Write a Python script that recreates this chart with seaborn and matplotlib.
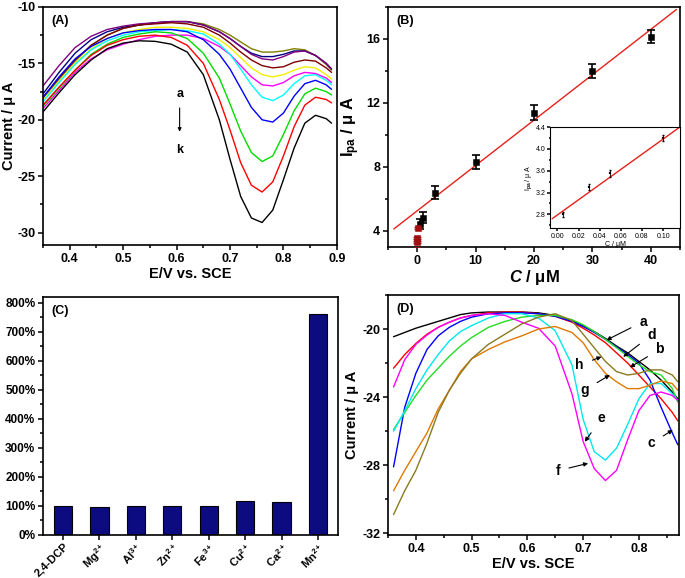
import numpy as np
import pandas as pd
import seaborn as sns
import matplotlib.pyplot as plt
from matplotlib.ticker import MultipleLocator, PercentFormatter

# ---------------- panel A: curves a..k (E / V vs SCE -> current / uA)
potential_A = [0.35, 0.38, 0.41, 0.44, 0.47, 0.50, 0.53, 0.56, 0.59, 0.62, 0.65, 0.68,
               0.70, 0.72, 0.74, 0.76, 0.78, 0.80, 0.82, 0.84, 0.86, 0.88, 0.89]
curve_A_a = [-18.1, -16.4, -14.8, -13.4, -12.5, -11.9, -11.6, -11.4, -11.3, -11.3, -11.5, -12.0,
             -12.5, -13.1, -13.7, -14.0, -14.0, -13.9, -13.7, -13.8, -14.3, -15.1, -15.6]
curve_A_b = [-17.7, -15.8, -14.1, -12.9, -12.2, -11.8, -11.6, -11.4, -11.3, -11.3, -11.6, -12.2,
             -12.8, -13.5, -14.1, -14.4, -14.4, -14.2, -13.9, -13.9, -14.3, -15.0, -15.5]
curve_A_c = [-17.0, -15.2, -13.6, -12.6, -12.0, -11.7, -11.5, -11.4, -11.3, -11.3, -11.6, -12.2,
             -12.8, -13.5, -14.2, -14.6, -14.7, -14.4, -14.0, -13.9, -14.3, -15.0, -15.5]
curve_A_d = [-18.0, -16.3, -14.7, -13.4, -12.5, -11.9, -11.6, -11.5, -11.4, -11.5, -11.8, -12.5,
             -13.2, -14.0, -14.7, -15.2, -15.4, -15.3, -14.9, -14.7, -14.8, -15.4, -15.8]
curve_A_e = [-18.3, -16.6, -15.0, -13.7, -12.8, -12.3, -12.0, -11.8, -11.8, -11.9, -12.2, -12.9,
             -13.6, -14.5, -15.4, -16.0, -16.2, -16.0, -15.6, -15.3, -15.4, -16.0, -16.4]
curve_A_f = [-19.0, -17.4, -15.8, -14.6, -13.8, -13.3, -12.9, -12.6, -12.5, -12.5, -12.8, -13.5,
             -14.2, -15.2, -16.2, -16.9, -17.0, -16.7, -16.1, -15.8, -15.9, -16.3, -16.7]
curve_A_g = [-18.4, -16.7, -15.1, -13.8, -13.0, -12.5, -12.2, -12.1, -12.0, -12.1, -12.4, -13.3,
             -14.2, -15.5, -16.9, -18.0, -18.3, -17.8, -16.8, -16.1, -16.0, -16.5, -16.9]
curve_A_h = [-18.0, -16.2, -14.6, -13.5, -12.8, -12.3, -12.1, -12.0, -12.0, -12.2, -12.9, -14.2,
             -15.5, -17.2, -18.9, -20.0, -20.2, -19.4, -17.9, -16.8, -16.5, -16.9, -17.3]
curve_A_i = [-18.8, -17.2, -15.6, -14.2, -13.3, -12.7, -12.4, -12.2, -12.3, -12.8, -14.1, -16.3,
             -18.6, -21.0, -22.9, -23.7, -23.2, -21.3, -19.2, -17.7, -17.2, -17.5, -17.8]
curve_A_j = [-18.7, -17.1, -15.6, -14.3, -13.4, -12.9, -12.6, -12.5, -12.7, -13.4, -15.0, -18.2,
             -20.9, -23.8, -25.8, -26.4, -25.5, -23.2, -20.6, -18.7, -18.0, -18.2, -18.5]
curve_A_k = [-19.3, -17.6, -16.0, -14.7, -13.7, -13.2, -13.0, -13.05, -13.3, -14.0, -16.0, -20.0,
             -23.5, -26.8, -28.7, -29.1, -28.0, -25.3, -22.5, -20.3, -19.6, -19.9, -20.3]
labels_A = list("abcdefghijk")
colors_A = ["#808000", "#000080", "#800080", "#800000", "#f0f000", "#ff00ff",
            "#00ffff", "#0000ff", "#00dd00", "#ff0000", "#000000"]

# ---------------- panel B: calibration
conc_B = [0.5, 1, 3, 10, 20, 30, 40]
ipa_B = [4.42, 4.83, 6.4, 8.3, 11.4, 14.0, 16.15]
err_B = [0.3, 0.35, 0.4, 0.45, 0.45, 0.45, 0.4]
fit_slope_B = 0.2835
fit_intercept_B = 5.26
fit_range_B = [-4.0, 44.4]

conc_inset = [0.005, 0.03, 0.05, 0.10]
ipa_inset = [2.80, 3.30, 3.55, 4.20]
err_inset = [0.05, 0.05, 0.06, 0.05]
fit_slope_inset = 13.9
fit_intercept_inset = 2.79
fit_range_inset = [-0.005, 0.116]

# ---------------- panel C: interference
ions_C = ["2,4-DCP", "Mg$^{2+}$", "Al$^{3+}$", "Zn$^{2+}$", "Fe$^{3+}$",
          "Cu$^{2+}$", "Ca$^{2+}$", "Mn$^{2+}$"]
response_C = [100, 97, 99, 99, 100, 118, 115, 760]

# ---------------- panel D: curves a..h
potential_D = [0.36, 0.38, 0.40, 0.42, 0.44, 0.46, 0.48, 0.50, 0.53, 0.56, 0.59, 0.62,
               0.65, 0.68, 0.70, 0.72, 0.74, 0.76, 0.78, 0.80, 0.82, 0.84, 0.86, 0.87]
curve_D_a = [-20.45, -20.2, -19.95, -19.75, -19.55, -19.35, -19.15, -19.05, -19.0, -19.0, -19.0, -19.05,
             -19.2, -19.5, -19.8, -20.15, -20.55, -21.0, -21.4, -21.9, -22.4, -23.0, -23.7, -24.1]
curve_D_b = [-22.3, -21.5, -20.85, -20.3, -19.9, -19.6, -19.35, -19.2, -19.05, -19.0, -19.0, -19.1,
             -19.25, -19.6, -19.95, -20.35, -20.8, -21.4, -22.0, -22.7, -23.4, -24.1, -24.9, -25.4]
curve_D_c = [-28.1, -24.6, -22.6, -21.2, -20.4, -19.9, -19.55, -19.3, -19.1, -19.05, -19.05, -19.1,
             -19.25, -19.55, -19.85, -20.2, -20.6, -21.05, -21.5, -22.0, -23.0, -24.6, -26.1, -26.8]
curve_D_d = [-25.9, -24.9, -23.9, -23.0, -22.3, -21.6, -21.0, -20.5, -19.9, -19.55, -19.3, -19.2,
             -19.2, -19.45, -19.75, -20.15, -20.6, -21.1, -21.6, -22.1, -22.5, -22.7, -23.5, -24.3]
curve_D_e = [-26.0, -24.8, -23.5, -22.4, -21.5, -20.7, -20.15, -19.8, -19.35, -19.1, -19.1, -19.35,
             -20.1, -22.1, -25.3, -27.2, -27.7, -27.0, -25.6, -24.1, -23.2, -23.2, -23.8, -24.2]
curve_D_f = [-23.4, -21.8, -20.9, -20.35, -19.9, -19.6, -19.35, -19.2, -19.1, -19.2, -19.6, -19.95,
             -21.0, -23.8, -26.6, -28.2, -28.9, -28.3, -26.5, -24.8, -23.9, -23.7, -23.9, -24.2]
curve_D_g = [-29.5, -28.3, -27.2, -26.1, -24.7, -23.6, -22.5, -21.75, -21.2, -20.75, -20.4, -20.0,
             -19.85, -20.2, -20.8, -21.8, -22.6, -23.1, -23.5, -23.5, -23.3, -23.05, -23.2, -23.6]
curve_D_h = [-30.9, -29.5, -28.3, -26.7, -24.9, -23.6, -22.6, -21.75, -20.9, -20.3, -19.7, -19.3,
             -19.1, -19.5, -20.3, -21.1, -21.9, -22.5, -22.7, -22.6, -22.4, -22.4, -22.7, -23.1]
labels_D = list("abcdefgh")
colors_D = ["#000000", "#ff0000", "#0000ff", "#22dd22", "#00e8f0", "#ff00ff", "#e07800", "#8a7a20"]

sns.set_style("ticks")
plt.rcParams["font.family"] = ["Liberation Sans", "DejaVu Sans"]
plt.rcParams["font.weight"] = "bold"
plt.rcParams["axes.labelweight"] = "bold"
plt.rcParams["axes.unicode_minus"] = False
plt.rcParams["mathtext.fontset"] = "custom"
plt.rcParams["mathtext.rm"] = "Liberation Sans:bold"
plt.rcParams["mathtext.it"] = "Liberation Sans:italic:bold"
plt.rcParams["mathtext.bf"] = "Liberation Sans:bold"
plt.rcParams["mathtext.default"] = "rm"
for key in ["text.color", "axes.labelcolor", "xtick.color", "ytick.color", "axes.edgecolor"]:
    plt.rcParams[key] = "black"


def style_axes(ax, xminor, yminor, size=9):
    ax.xaxis.set_minor_locator(MultipleLocator(xminor))
    ax.yaxis.set_minor_locator(MultipleLocator(yminor))
    ax.tick_params(which="both", direction="out", top=False, right=False,
                   labelsize=size, width=1.1, pad=2)
    ax.tick_params(which="major", length=3.5)
    ax.tick_params(which="minor", length=2)
    for sp in ax.spines.values():
        sp.set_visible(True)
        sp.set_linewidth(1.2)


def long_frame(x, curves, labels):
    return pd.concat([pd.DataFrame({"E": x, "I": c, "curve": lab})
                      for c, lab in zip(curves, labels)], ignore_index=True)


fig = plt.figure(figsize=(6.85, 5.78), dpi=100)

# ---- (A)
ax_a = fig.add_axes([0.0628, 0.576, 0.429, 0.412])
df_a = long_frame(potential_A, [curve_A_a, curve_A_b, curve_A_c, curve_A_d, curve_A_e, curve_A_f,
                                curve_A_g, curve_A_h, curve_A_i, curve_A_j, curve_A_k], labels_A)
sns.lineplot(data=df_a, x="E", y="I", hue="curve", palette=dict(zip(labels_A, colors_A)),
             legend=False, errorbar=None, lw=1.0, ax=ax_a)
ax_a.set_xlim(0.35, 0.9)
ax_a.set_ylim(-31.1, -10)
ax_a.xaxis.set_major_locator(MultipleLocator(0.1))
ax_a.yaxis.set_major_locator(MultipleLocator(5))
style_axes(ax_a, 0.05, 2.5)
ax_a.set_xlabel("E/V vs. SCE", fontsize=10.5, labelpad=2)
ax_a.set_ylabel("Current / μ A", fontsize=10.5, labelpad=1)
ax_a.text(0.03, 0.93, "(A)", transform=ax_a.transAxes, fontsize=9, fontweight="bold")
ax_a.text(0.6057, -17.7, "a", ha="center", va="center", fontsize=9)
ax_a.text(0.6057, -22.7, "k", ha="center", va="center", fontsize=9)
ax_a.annotate("", xy=(0.6057, -21.3), xytext=(0.6057, -18.7),
              arrowprops=dict(arrowstyle="-|>", color="black", lw=0.8, mutation_scale=5))

# ---- (B)
ax_b = fig.add_axes([0.5664, 0.5727, 0.4263, 0.4152])
ax_b.set_xlim(-5, 45)
ax_b.set_ylim(3, 18)
fx = np.array(fit_range_B)
ax_b.plot(fx, fit_intercept_B + fit_slope_B * fx, color="#e8201a", lw=1.0)
ax_b.errorbar(conc_B, ipa_B, yerr=err_B, fmt="none", ecolor="black", elinewidth=1.2, capsize=3, capthick=1.2)
sns.scatterplot(x=conc_B, y=ipa_B, marker="s", color="black", s=24, edgecolor="black", ax=ax_b, zorder=3)
ax_b.errorbar(conc_inset, ipa_inset, yerr=err_inset, fmt="none", ecolor="#a01010", elinewidth=1.2, capsize=3)
sns.scatterplot(x=conc_inset, y=ipa_inset, marker="s", color="#a01010", s=24, edgecolor="#a01010",
                ax=ax_b, zorder=3)
ax_b.xaxis.set_major_locator(MultipleLocator(10))
ax_b.yaxis.set_major_locator(MultipleLocator(4))
style_axes(ax_b, 5, 2)
ax_b.set_xlabel("$\\mathit{C}$ / μM", fontsize=12, labelpad=1)
ax_b.set_ylabel("I$_{pa}$ / μ A", fontsize=12, labelpad=3)
ax_b.text(0.03, 0.93, "(B)", transform=ax_b.transAxes, fontsize=9, fontweight="bold")

ax_in = fig.add_axes([0.803, 0.6055, 0.1898, 0.1747])
fi = np.array(fit_range_inset)
ax_in.plot(fi, fit_intercept_inset + fit_slope_inset * fi, color="#e8201a", lw=1.0)
ax_in.errorbar(conc_inset, ipa_inset, yerr=err_inset, fmt="none", ecolor="black", elinewidth=0.6, capsize=1)
sns.scatterplot(x=conc_inset, y=ipa_inset, marker="s", color="black", s=4, edgecolor="black", ax=ax_in)
ax_in.set_xlim(-0.007, 0.116)
ax_in.set_ylim(2.55, 4.4)
ax_in.xaxis.set_major_locator(MultipleLocator(0.02))
ax_in.yaxis.set_major_locator(MultipleLocator(0.4))
ax_in.xaxis.set_major_formatter(lambda v, p: f"{v:.2f}")
ax_in.yaxis.set_major_formatter(lambda v, p: f"{v:.1f}")
style_axes(ax_in, 0.01, 0.2, size=5)
ax_in.tick_params(which="major", length=2, pad=1.5)
ax_in.tick_params(which="minor", length=1)
for sp in ax_in.spines.values():
    sp.set_linewidth(0.8)
for t in ax_in.get_xticklabels() + ax_in.get_yticklabels():
    t.set_fontweight("normal")
ax_in.set_xlabel("C / μM", fontsize=5, fontweight="normal", labelpad=1)
ax_in.set_ylabel("I$_{pa}$ / μ A", fontsize=5, fontweight="normal", labelpad=1)

# ---- (C)
ax_c = fig.add_axes([0.0628, 0.0744, 0.4307, 0.4118])
sns.barplot(x=ions_C, y=response_C, color="#0c0c80", saturation=1, edgecolor="black",
            linewidth=0.8, width=0.5, ax=ax_c)
ax_c.set_xlim(-0.55, 7.55)
ax_c.set_ylim(0, 820)
ax_c.yaxis.set_major_locator(MultipleLocator(100))
ax_c.yaxis.set_major_formatter(PercentFormatter(decimals=0))
style_axes(ax_c, 1, 50)
ax_c.xaxis.set_minor_locator(plt.NullLocator())
ax_c.tick_params(axis="x", labelsize=8, pad=1)
ax_c.tick_params(axis="y", labelsize=8.5)
plt.setp(ax_c.get_xticklabels(), rotation=45, ha="right", rotation_mode="anchor")
ax_c.text(0.03, 0.93, "(C)", transform=ax_c.transAxes, fontsize=9, fontweight="bold")

# ---- (D)
ax_d = fig.add_axes([0.5664, 0.0744, 0.4248, 0.4152])
df_d = long_frame(potential_D, [curve_D_a, curve_D_b, curve_D_c, curve_D_d, curve_D_e, curve_D_f,
                                curve_D_g, curve_D_h], labels_D)
sns.lineplot(data=df_d, x="E", y="I", hue="curve", palette=dict(zip(labels_D, colors_D)),
             legend=False, errorbar=None, lw=1.0, ax=ax_d)
ax_d.set_xlim(0.35, 0.872)
ax_d.set_ylim(-32.1, -18)
ax_d.xaxis.set_major_locator(MultipleLocator(0.1))
ax_d.yaxis.set_major_locator(MultipleLocator(4))
style_axes(ax_d, 0.05, 2)
ax_d.set_xlabel("E/V vs. SCE", fontsize=10.5, labelpad=2)
ax_d.set_ylabel("Current / μ A", fontsize=10.5, labelpad=2)
ax_d.text(0.03, 0.93, "(D)", transform=ax_d.transAxes, fontsize=9, fontweight="bold")

notes_D = [("a", (0.8075, -19.57), (0.742, -20.65)),
           ("d", (0.8226, -20.35), (0.772, -21.63)),
           ("b", (0.8375, -21.19), (0.784, -22.25)),
           ("h", (0.694, -22.11), (0.733, -21.63)),
           ("g", (0.703, -23.58), (0.748, -22.7)),
           ("e", (0.733, -25.24), (0.703, -26.62)),
           ("f", (0.655, -28.32), (0.709, -27.89)),
           ("c", (0.8226, -26.71), (0.861, -25.93))]
for lab, txt, tip in notes_D:
    ax_d.annotate(lab, xy=tip, xytext=txt, ha="center", va="center", fontsize=10,
                  arrowprops=dict(arrowstyle="-|>", color="black", lw=0.8, mutation_scale=6,
                                  shrinkA=4, shrinkB=0))

fig.savefig("out.png", dpi=100)
